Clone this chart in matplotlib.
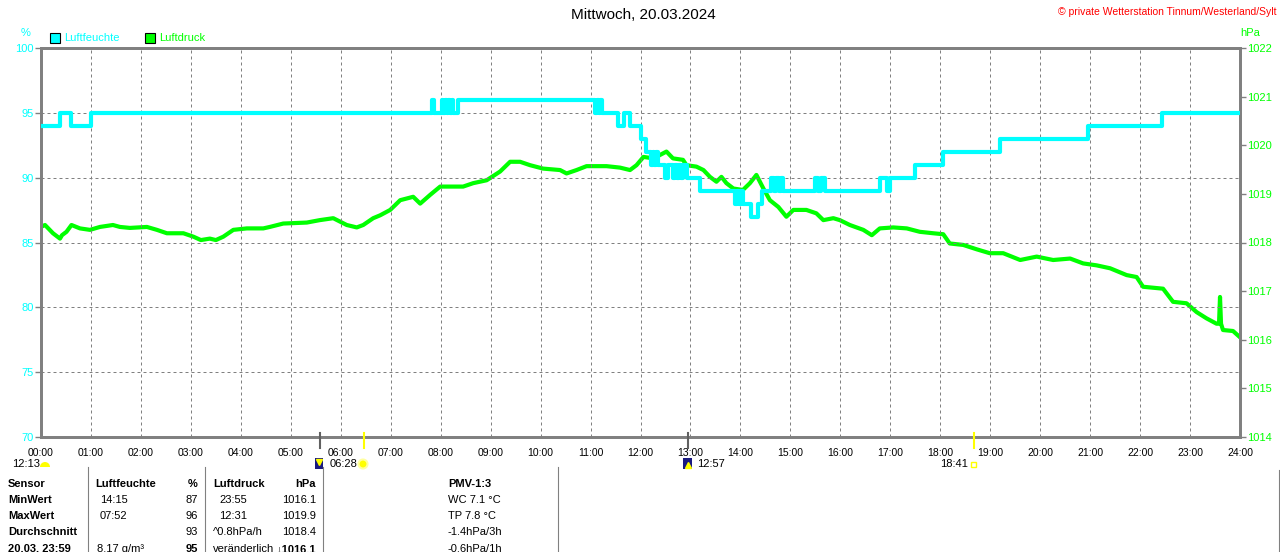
import numpy as np
import matplotlib.pyplot as plt
from matplotlib.patches import Rectangle, Wedge, Circle

plt.rcParams['font.family'] = ['Liberation Sans', 'DejaVu Sans']

# Luftfeuchte (%), Stufenwerte: Zeit in Stunden -> Wert ab diesem Zeitpunkt
hum_t = [0.00, 0.38, 0.61, 1.01, 7.82, 7.87, 8.02, 8.05, 8.08, 8.12, 8.15, 8.19,
         8.22, 8.25, 8.35, 11.09, 11.12, 11.16, 11.19, 11.23, 11.55, 11.67, 11.79,
         12.02, 12.12, 12.22, 12.25, 12.28, 12.31, 12.35, 12.49, 12.55, 12.65,
         12.69, 12.73, 12.78, 12.82, 12.86, 12.93, 13.19, 13.89, 13.93, 13.97,
         14.01, 14.05, 14.22, 14.35, 14.44, 14.62, 14.67, 14.72, 14.78, 14.82,
         14.86, 15.49, 15.55, 15.62, 15.69, 16.80, 16.93, 17.00, 17.49, 18.06,
         19.20, 20.96, 22.43, 24.00]
hum_v = [94, 95, 94, 95, 96, 95, 96, 95, 96, 95, 96, 95,
         96, 95, 96, 95, 96, 95, 96, 95, 94, 95, 94,
         93, 92, 91, 92, 91, 92, 91, 90, 91, 90,
         91, 90, 91, 90, 91, 90, 89, 88, 89, 88,
         89, 88, 87, 88, 89, 90, 89, 90, 89, 90,
         89, 90, 89, 90, 89, 90, 89, 90, 91, 92,
         93, 94, 95, 95]

# Luftdruck (hPa)
pres_t = [0.00, 0.08, 0.24, 0.38, 0.42, 0.51, 0.61, 0.78, 0.98, 1.18, 1.44, 1.58,
          1.78, 2.12, 2.32, 2.52, 2.85, 3.05, 3.20, 3.38, 3.50, 3.65, 3.85, 4.12,
          4.45, 4.58, 4.85, 5.32, 5.58, 5.85, 6.12, 6.32, 6.45, 6.65, 6.79, 6.99,
          7.19, 7.45, 7.59, 7.79, 7.99, 8.25, 8.45, 8.65, 8.92, 9.19, 9.39, 9.59,
          9.79, 10.05, 10.39, 10.52, 10.72, 10.92, 11.32, 11.59, 11.79, 11.92,
          12.06, 12.26, 12.52, 12.65, 12.85, 12.92, 13.12, 13.26, 13.39, 13.52,
          13.62, 13.72, 13.86, 14.05, 14.19, 14.32, 14.46, 14.59, 14.76, 14.92,
          15.06, 15.32, 15.52, 15.66, 15.86, 15.99, 16.19, 16.46, 16.63, 16.79,
          17.06, 17.33, 17.59, 17.86, 18.06, 18.19, 18.46, 18.73, 18.99, 19.26,
          19.60, 19.93, 20.26, 20.60, 20.86, 21.13, 21.40, 21.73, 21.93, 22.06,
          22.46, 22.66, 22.93, 23.13, 23.33, 23.53, 23.58, 23.60, 23.62, 23.66,
          23.86, 23.99]
pres_v = [1018.32, 1018.36, 1018.19, 1018.08, 1018.15, 1018.22, 1018.36, 1018.29,
          1018.26, 1018.32, 1018.36, 1018.32, 1018.30, 1018.32, 1018.26, 1018.19,
          1018.19, 1018.12, 1018.05, 1018.08, 1018.05, 1018.12, 1018.26, 1018.29,
          1018.29, 1018.32, 1018.39, 1018.41, 1018.46, 1018.50, 1018.36, 1018.31,
          1018.36, 1018.50, 1018.56, 1018.67, 1018.87, 1018.94, 1018.80, 1018.98,
          1019.15, 1019.15, 1019.15, 1019.22, 1019.28, 1019.46, 1019.66, 1019.66,
          1019.59, 1019.52, 1019.49, 1019.42, 1019.49, 1019.57, 1019.57, 1019.54,
          1019.49, 1019.59, 1019.76, 1019.73, 1019.87, 1019.73, 1019.70, 1019.59,
          1019.56, 1019.49, 1019.35, 1019.25, 1019.35, 1019.22, 1019.11, 1019.08,
          1019.22, 1019.39, 1019.11, 1018.87, 1018.73, 1018.53, 1018.67, 1018.67,
          1018.60, 1018.46, 1018.50, 1018.46, 1018.36, 1018.26, 1018.15, 1018.29,
          1018.31, 1018.29, 1018.22, 1018.19, 1018.17, 1017.98, 1017.95, 1017.86,
          1017.78, 1017.78, 1017.64, 1017.71, 1017.64, 1017.67, 1017.57, 1017.53,
          1017.47, 1017.33, 1017.29, 1017.09, 1017.05, 1016.78, 1016.75, 1016.57,
          1016.44, 1016.33, 1016.33, 1016.88, 1016.33, 1016.20, 1016.18, 1016.06]

hour_labels = ['%02d:00' % h for h in range(25)]
hum_ticks = [70, 75, 80, 85, 90, 95, 100]
pres_ticks = list(range(1014, 1023))

# Sonne / Mond Marken (Stunden)
moon_down = 5.58
sunrise = 6.467
moon_up = 12.95
sunset = 18.683

# Tabelle unten
rows = ['Sensor', 'MinWert', 'MaxWert', 'Durchschnitt', '20.03. 23:59']
hum_time = ['', '14:15', '07:52', '', '8.17 g/m\u00b3']
hum_val = ['%', '87', '96', '93', '95']
pres_time = ['', '23:55', '12:31', '^0.8hPa/h', 'ver\u00e4nderlich']
pres_val = ['hPa', '1016.1', '1019.9', '1018.4', '\u21931016.1']
pmv = ['PMV-1:3', 'WC 7.1 \u00b0C', 'TP 7.8 \u00b0C', '-1.4hPa/3h', '-0.6hPa/1h']

CYAN = '#00ffff'
GREEN = '#00ff00'
GRAY = '#808080'

W, H = 1280, 552
fig = plt.figure(figsize=(W / 100, H / 100), dpi=100)
ax = fig.add_axes([41 / W, (H - 437) / H, 1199 / W, 389 / H])
ax2 = ax.twinx()

ax.set_xlim(0, 24)
ax.set_ylim(70, 100)
ax2.set_ylim(1014, 1022)

ax.set_xticks(range(25))
ax.set_xticklabels(hour_labels)
ax.set_yticks(hum_ticks)
ax2.set_yticks(pres_ticks)

for a in (ax, ax2):
    for s in a.spines.values():
        s.set_color(GRAY)
        s.set_linewidth(2)
ax.tick_params(axis='x', length=0, pad=8, labelsize=7.5, colors='black')
ax.tick_params(axis='y', length=4, width=1, color=GRAY, pad=1, labelsize=8, labelcolor=CYAN)
ax2.tick_params(axis='y', length=4, width=1, color=GRAY, pad=1, labelsize=8, labelcolor=GREEN)

for h in range(1, 24):
    ax.axvline(h, color=GRAY, lw=0.72, ls=(0, (3, 3)), zorder=1)
for v in hum_ticks[1:-1]:
    ax.axhline(v, color=GRAY, lw=0.72, ls=(0, (3, 3)), zorder=1)

ax2.plot(pres_t, pres_v, color=GREEN, lw=3, zorder=2)
ax.set_zorder(ax2.get_zorder() + 1)
ax.patch.set_visible(False)
ax.plot(hum_t, hum_v, color=CYAN, lw=3, drawstyle='steps-post', zorder=3)

# Marken unter der Achse
for t, c in ((moon_down, '#606060'), (moon_up, '#606060'), (sunrise, '#ffff00'), (sunset, '#ffff00')):
    ax.plot([t, t], [70.3, 69.15], color=c, lw=1.5, clip_on=False, zorder=5)

# Overlay in Pixelkoordinaten fuer Texte, Legende und Tabelle
ov = fig.add_axes([0, 0, 1, 1], zorder=-5)
ov.set_xlim(0, W)
ov.set_ylim(H, 0)
ov.axis('off')

ov.text(643, 15, 'Mittwoch, 20.03.2024', ha='center', va='center', fontsize=11)
ov.text(1277, 12, '\u00a9 private Wetterstation Tinnum/Westerland/Sylt', ha='right',
        va='center', fontsize=7.5, color='red')
ov.text(26, 33, '%', ha='center', va='center', fontsize=8, color=CYAN)
ov.text(1250, 33, 'hPa', ha='center', va='center', fontsize=8, color=GREEN)

ov.add_patch(Rectangle((50, 33), 10, 10, facecolor=CYAN, edgecolor='black', lw=0.8))
ov.text(64, 38, 'Luftfeuchte', va='center', fontsize=8, color=CYAN)
ov.add_patch(Rectangle((145, 33), 10, 10, facecolor=GREEN, edgecolor='black', lw=0.8))
ov.text(159, 38, 'Luftdruck', va='center', fontsize=8, color=GREEN)

# Sonnen-/Mondzeilen
ov.text(12, 464, '12:13', va='center', fontsize=8)
ov.add_patch(Wedge((45, 467), 5, 180, 360, facecolor='#ffff00', edgecolor='none'))
ov.add_patch(Rectangle((315, 458), 8, 11, facecolor='#1a1a80', edgecolor='none'))
ov.plot([319], [462], marker='v', color='#ffff00', ms=4)
ov.text(330, 464, '06:28', va='center', fontsize=8)
ov.add_patch(Circle((363, 464), 4.5, facecolor='#ffff00', edgecolor='#ffffa0', lw=1.5))
ov.add_patch(Rectangle((683, 458), 9, 11, facecolor='#1a1a80', edgecolor='none'))
ov.plot([688], [465], marker='^', color='#ffff00', ms=4)
ov.text(697, 464, '12:57', va='center', fontsize=8)
ov.text(940, 464, '18:41', va='center', fontsize=8)
ov.add_patch(Rectangle((971, 462), 5, 5, facecolor='none', edgecolor='#ffff00', lw=1))

# Tabelle
for x in (88, 205, 323, 558):
    ov.plot([x, x], [467, H], color=GRAY, lw=0.8)
ov.plot([1279, 1279], [470, H], color=GRAY, lw=0.8)

row_y = [484, 500, 516, 532, 549]
for i, y in enumerate(row_y):
    head = i == 0
    last = i == len(row_y) - 1
    ov.text(8, y, rows[i], va='center', fontsize=8, fontweight='bold')
    if head:
        ov.text(95, y, 'Luftfeuchte', va='center', fontsize=8, fontweight='bold')
        ov.text(213, y, 'Luftdruck', va='center', fontsize=8, fontweight='bold')
    else:
        ov.text(100 if not last else 97, y, hum_time[i], va='center', fontsize=8)
        ov.text(219 if i < 3 else 213, y, pres_time[i], va='center', fontsize=8)
    bold = head or last
    ov.text(198, y, hum_val[i], ha='right', va='center', fontsize=8,
            fontweight='bold' if bold else 'normal')
    ov.text(316, y, pres_val[i], ha='right', va='center', fontsize=8,
            fontweight='bold' if bold else 'normal')
    ov.text(448, y, pmv[i], va='center', fontsize=8, fontweight='bold' if head else 'normal')

fig.savefig('out.png', dpi=100)
